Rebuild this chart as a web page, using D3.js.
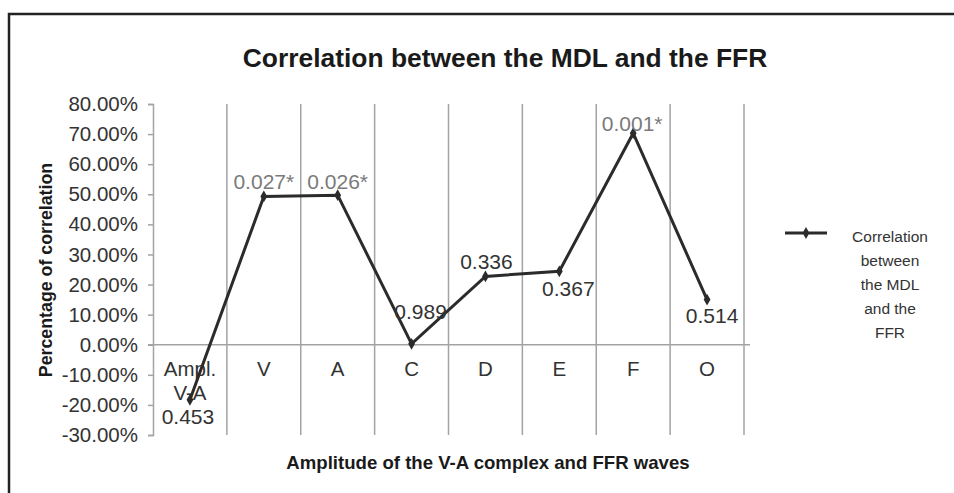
<!DOCTYPE html>
<html>
<head>
<meta charset="utf-8">
<script src="https://cdn.jsdelivr.net/npm/d3@7"></script>
<style>
  body { margin: 0; background: #fff; }
  text { font-family: "Liberation Sans", Arial, sans-serif; }
</style>
</head>
<body>
<script>
// chart data
var categories = ["Ampl.\nV-A", "V", "A", "C", "D", "E", "F", "O"];
var correlation = [-0.183, 0.493, 0.497, 0.003, 0.227, 0.244, 0.703, 0.15];
var pValues = ["0.453", "0.027*", "0.026*", "0.989", "0.336", "0.367", "0.001*", "0.514"];
var yTicks = [-0.3, -0.2, -0.1, 0, 0.1, 0.2, 0.3, 0.4, 0.5, 0.6, 0.7, 0.8];
var legendLines = ["Correlation", "between", "the MDL", "and the", "FFR"];

// where each p-value label sits relative to its point (px)
var labelOffset = [[-2, 17], [0, -15], [0, -14], [9, -32], [1, -15], [9, 17], [-1, -10], [5, 16]];

var width = 954, height = 493;

var svg = d3.select("body").append("svg")
    .attr("width", width)
    .attr("height", height);

// frame (only top and left edges show)
svg.append("path")
    .attr("d", "M9,493 V14 H954")
    .attr("fill", "none")
    .attr("stroke", "#222")
    .attr("stroke-width", 2.5);

var x = d3.scaleBand()
    .domain(categories)
    .range([153, 744]);

var y = d3.scaleLinear()
    .domain([-0.3, 0.8])
    .range([435, 104]);

// vertical gridlines at category boundaries
var bounds = categories.map(function(c) { return x(c); }).concat([x.range()[1]]);
svg.append("g").selectAll("line")
    .data(bounds.slice(1))
    .enter().append("line")
    .attr("x1", function(d) { return d; })
    .attr("x2", function(d) { return d; })
    .attr("y1", y(0.8))
    .attr("y2", y(-0.3))
    .attr("stroke", "#a3a3a3")
    .attr("stroke-width", 1.5);

// y axis
var yAxis = svg.append("g")
    .attr("transform", "translate(153,0)")
    .call(d3.axisLeft(y)
        .tickValues(yTicks)
        .tickSize(5)
        .tickPadding(10)
        .tickFormat(function(d) { return d3.format(".2%")(d).replace("\u2212", "-"); }));
yAxis.select(".domain").attr("stroke", "#a3a3a3").attr("stroke-width", 1.5);
yAxis.selectAll(".tick line").attr("stroke", "#a3a3a3").attr("stroke-width", 1.5);
yAxis.selectAll(".tick text")
    .attr("fill", "#333")
    .style("font-size", "20.5px")
    .style("font-family", "'Liberation Sans', Arial, sans-serif");

// zero line
svg.append("line")
    .attr("x1", 148)
    .attr("x2", 750)
    .attr("y1", y(0))
    .attr("y2", y(0))
    .attr("stroke", "#a3a3a3")
    .attr("stroke-width", 1.5);

// category labels
var catText = svg.append("g").selectAll("text")
    .data(categories)
    .enter().append("text")
    .attr("text-anchor", "middle")
    .attr("fill", "#333")
    .style("font-size", "20.5px");
catText.each(function(d) {
    var lines = d.split("\n");
    var t = d3.select(this);
    lines.forEach(function(l, i) {
        t.append("tspan")
            .attr("x", x(d) + x.bandwidth() / 2)
            .attr("y", y(0) + 31 + i * 24)
            .text(l);
    });
});

// the line
var line = d3.line()
    .x(function(d, i) { return x(categories[i]) + x.bandwidth() / 2; })
    .y(function(d) { return y(d); });

svg.append("path")
    .datum(correlation)
    .attr("d", line)
    .attr("fill", "none")
    .attr("stroke", "#2b2b2b")
    .attr("stroke-width", 3);

var diamond = d3.symbol().type(d3.symbolDiamond).size(40);
svg.append("g").selectAll("path")
    .data(correlation)
    .enter().append("path")
    .attr("d", diamond)
    .attr("transform", function(d, i) {
        return "translate(" + (x(categories[i]) + x.bandwidth() / 2) + "," + y(d) + ")";
    })
    .attr("fill", "#2b2b2b");

// p-value labels
svg.append("g").selectAll("text")
    .data(pValues)
    .enter().append("text")
    .attr("x", function(d, i) { return x(categories[i]) + x.bandwidth() / 2 + labelOffset[i][0]; })
    .attr("y", function(d, i) { return y(correlation[i]) + labelOffset[i][1]; })
    .attr("dy", "0.35em")
    .attr("text-anchor", "middle")
    .attr("fill", function(d) { return d.indexOf("*") >= 0 ? "#7a7a7a" : "#333"; })
    .style("font-size", "21px")
    .text(function(d) { return d; });

// title
svg.append("text")
    .attr("x", 505)
    .attr("y", 67)
    .attr("text-anchor", "middle")
    .attr("fill", "#1a1a1a")
    .style("font-size", "26.4px")
    .style("font-weight", "bold")
    .text("Correlation between the MDL and the FFR");

// axis titles
svg.append("text")
    .attr("x", 488)
    .attr("y", 469)
    .attr("text-anchor", "middle")
    .attr("fill", "#1a1a1a")
    .style("font-size", "18.6px")
    .style("font-weight", "bold")
    .text("Amplitude of the V-A complex and FFR waves");

svg.append("text")
    .attr("transform", "translate(52,270) rotate(-90)")
    .attr("text-anchor", "middle")
    .attr("fill", "#1a1a1a")
    .style("font-size", "17.8px")
    .style("font-weight", "bold")
    .text("Percentage of correlation");

// legend
svg.append("line")
    .attr("x1", 785)
    .attr("x2", 827)
    .attr("y1", 233)
    .attr("y2", 233)
    .attr("stroke", "#2b2b2b")
    .attr("stroke-width", 3);
svg.append("path")
    .attr("d", diamond)
    .attr("transform", "translate(806,233)")
    .attr("fill", "#2b2b2b");

svg.append("g").selectAll("text")
    .data(legendLines)
    .enter().append("text")
    .attr("x", 890)
    .attr("y", function(d, i) { return 242 + i * 24; })
    .attr("text-anchor", "middle")
    .attr("fill", "#333")
    .style("font-size", "15.5px")
    .text(function(d) { return d; });
</script>
</body>
</html>
